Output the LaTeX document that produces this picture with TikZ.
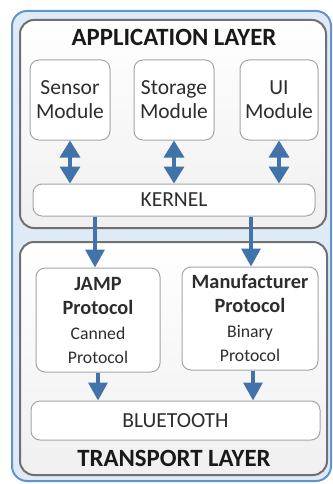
\documentclass[tikz,border=0pt]{standalone}
\usepackage{fontspec}
\setmainfont{Carlito}
\usetikzlibrary{arrows.meta}
\definecolor{edgeblue}{RGB}{96,148,206}
\definecolor{paleblue}{RGB}{222,234,246}
\definecolor{arrblue}{RGB}{66,114,170}
\definecolor{layergray}{RGB}{112,112,112}
\definecolor{boxgray}{RGB}{165,165,165}
\definecolor{txtgray}{RGB}{45,45,45}
\newcommand{\layerfont}{\fontsize{24.8}{28}\selectfont\bfseries}
\newcommand{\modfont}{\fontsize{21.5}{24}\selectfont}
\newcommand{\protofont}{\fontsize{20.3}{24}\selectfont\bfseries}
\newcommand{\subfont}{\fontsize{17.7}{21}\selectfont}
\tikzstyle{outer} = [draw=edgeblue, line width=2pt, fill=paleblue, rounded corners=15pt]
\tikzstyle{layer} = [draw=layergray, line width=2pt, top color=white, bottom color=black!6, rounded corners=14pt]
\tikzstyle{box} = [draw=boxgray, line width=1pt, fill=white, rounded corners=9pt, align=center, text=txtgray, font=\modfont, inner sep=0pt]
\tikzstyle{title} = [font=\layerfont, text=black!90]
\tikzstyle{arr} = [draw=arrblue, line width=3.5pt, -{Triangle[width=19pt,length=18pt]}, arrblue]
\tikzstyle{dblarr} = [draw=arrblue, line width=3.5pt, {Triangle[width=20pt,length=17pt]}-{Triangle[width=20pt,length=17pt]}, arrblue]

\begin{document}
\begin{tikzpicture}[x=1pt,y=-1pt]
        \useasboundingbox (0,0) rectangle (332,484);
        \node[outer, minimum width=319pt, minimum height=470pt](all) at (171.5,246){};
        \node[layer, minimum width=306pt, minimum height=208pt](app) at (173,124){};
        \node[layer, minimum width=307pt, minimum height=233pt](trans) at (173.5,358.5){};
        \node[title](apptitle) at (174,37){APPLICATION LAYER};
        \node[title](transtitle) at (174,458){TRANSPORT LAYER};
        \node[box, minimum width=80pt, minimum height=80pt](sen) at (70,100){Sensor\\Module};
        \node[box, minimum width=80pt, minimum height=80pt](sto) at (174,100){Storage\\Module};
        \node[box, minimum width=78pt, minimum height=80pt](ui) at (279,100){UI\\Module};
        \node[box, minimum width=282pt, minimum height=32pt](ker) at (174,200){KERNEL};
        \node[box, minimum width=124pt, minimum height=104pt](jamp) at (98,320){{\protofont JAMP}\\{\protofont Protocol}\\[1pt]{\subfont Canned}\\{\subfont Protocol}};
        \node[box, minimum width=136pt, minimum height=103pt](man) at (250,318.5){{\protofont Manufacturer}\\{\protofont Protocol}\\[1pt]{\subfont Binary}\\{\subfont Protocol}};
        \node[box, minimum width=289pt, minimum height=39pt](bt) at (175.5,420.5){BLUETOOTH};
        \draw[dblarr](sen)--(sen |- ker.north);
        \draw[dblarr](sto)--(sto |- ker.north);
        \draw[dblarr](ui)--(ui |- ker.north);
        \draw[arr](ker.south -| 95,0)--(jamp.north -| 95,0);
        \draw[arr](ker.south -| 251,0)--(man.north -| 251,0);
        \draw[arr](jamp)--(jamp |- bt.north);
        \draw[arr](man.south -| 253,0)--(bt.north -| 253,0);
      \end{tikzpicture}
\end{document}
